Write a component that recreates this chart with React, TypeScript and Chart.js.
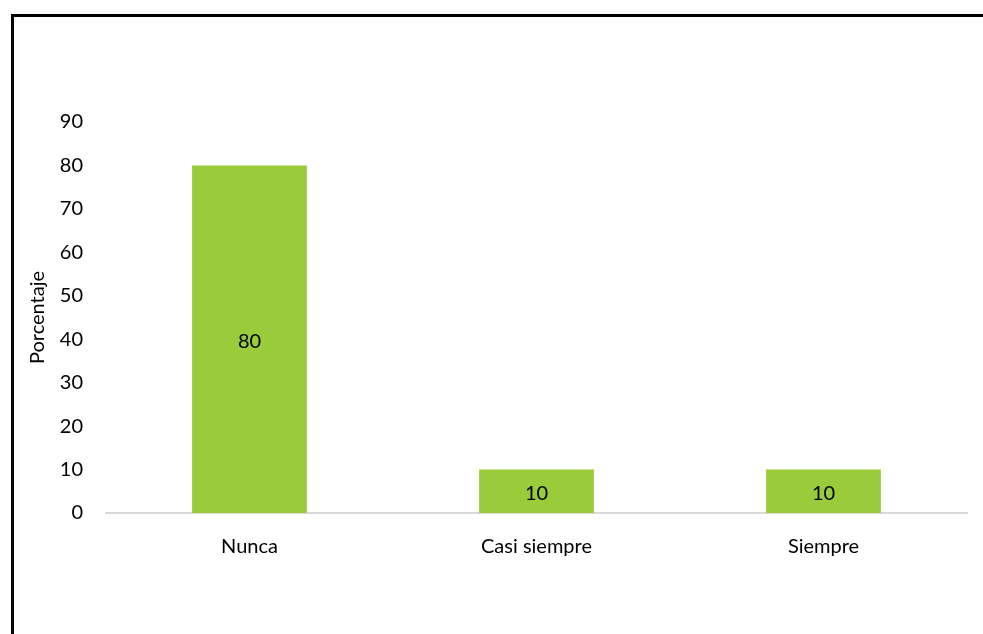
import React, { useEffect, useRef } from "react";
import { Chart, registerables } from "chart.js";

Chart.register(...registerables);

const categories = ["Nunca", "Casi siempre", "Siempre"];
const values = [80, 10, 10];
const yTicks = [0, 10, 20, 30, 40, 50, 60, 70, 80, 90];

const FONT = "Lato, 'Open Sans', sans-serif";
const FS = 20;

const borderPlugin = {
  id: "outerBorder",
  beforeDraw(chart: any) {
    const ctx = chart.ctx;
    ctx.save();
    ctx.fillStyle = "#ffffff";
    ctx.fillRect(0, 0, chart.width, chart.height);
    ctx.strokeStyle = "#000000";
    ctx.lineWidth = 3;
    ctx.beginPath();
    ctx.moveTo(12.5, chart.height + 5);
    ctx.lineTo(12.5, 15.5);
    ctx.lineTo(chart.width + 5, 15.5);
    ctx.stroke();
    ctx.restore();
  },
};

const labelPlugin = {
  id: "barLabels",
  afterDatasetsDraw(chart: any) {
    const ctx = chart.ctx;
    const meta = chart.getDatasetMeta(0);
    ctx.save();
    ctx.fillStyle = "#000000";
    ctx.font = `${FS}px ${FONT}`;
    ctx.textAlign = "center";
    ctx.textBaseline = "middle";
    meta.data.forEach((bar: any, i: number) => {
      const v = chart.data.datasets[0].data[i];
      const y = (bar.y + bar.base) / 2 + 2;
      ctx.fillText(String(v), bar.x, y);
    });
    ctx.restore();
  },
};

export default function App() {
  const ref = useRef<HTMLCanvasElement | null>(null);
  useEffect(() => {
    if (!ref.current) return;
    const chart = new Chart(ref.current, {
      type: "bar",
      data: {
        labels: categories,
        datasets: [
          {
            data: values,
            backgroundColor: "#9acb3b",
            categoryPercentage: 0.4,
            barPercentage: 1,
          },
        ],
      },
      options: {
        animation: false,
        responsive: false,
        maintainAspectRatio: false,
        layout: { padding: { top: 122, right: 16, left: 26, bottom: 0 } },
        plugins: {
          legend: { display: false },
          tooltip: { enabled: false },
          title: { display: false },
        },
        scales: {
          x: {
            grid: { display: false, drawTicks: false },
            border: { display: true, color: "#d9d9d9", width: 2 },
            ticks: {
              color: "#000000",
              font: { family: FONT, size: FS },
              padding: 22,
            },
            afterFit(scale: any) {
              scale.height = 634 - 513;
            },
          },
          y: {
            min: 0,
            max: 90,
            afterBuildTicks(scale: any) {
              scale.ticks = yTicks.map((v) => ({ value: v }));
            },
            grid: { display: false, drawTicks: false },
            border: { display: false },
            ticks: {
              color: "#000000",
              font: { family: FONT, size: FS },
              padding: 23,
            },
            title: {
              display: true,
              text: "Porcentaje",
              color: "#000000",
              font: { family: FONT, size: FS },
              padding: 0,
            },
            afterFit(scale: any) {
              scale.width = 80;
            },
          },
        },
      },
      plugins: [borderPlugin, labelPlugin],
    });
    return () => chart.destroy();
  }, []);
  return (
    <div style={{ position: "fixed", left: 0, top: 0, width: 983, height: 634 }}>
      <canvas ref={ref} width={983} height={634} style={{ display: "block" }} />
    </div>
  );
}
